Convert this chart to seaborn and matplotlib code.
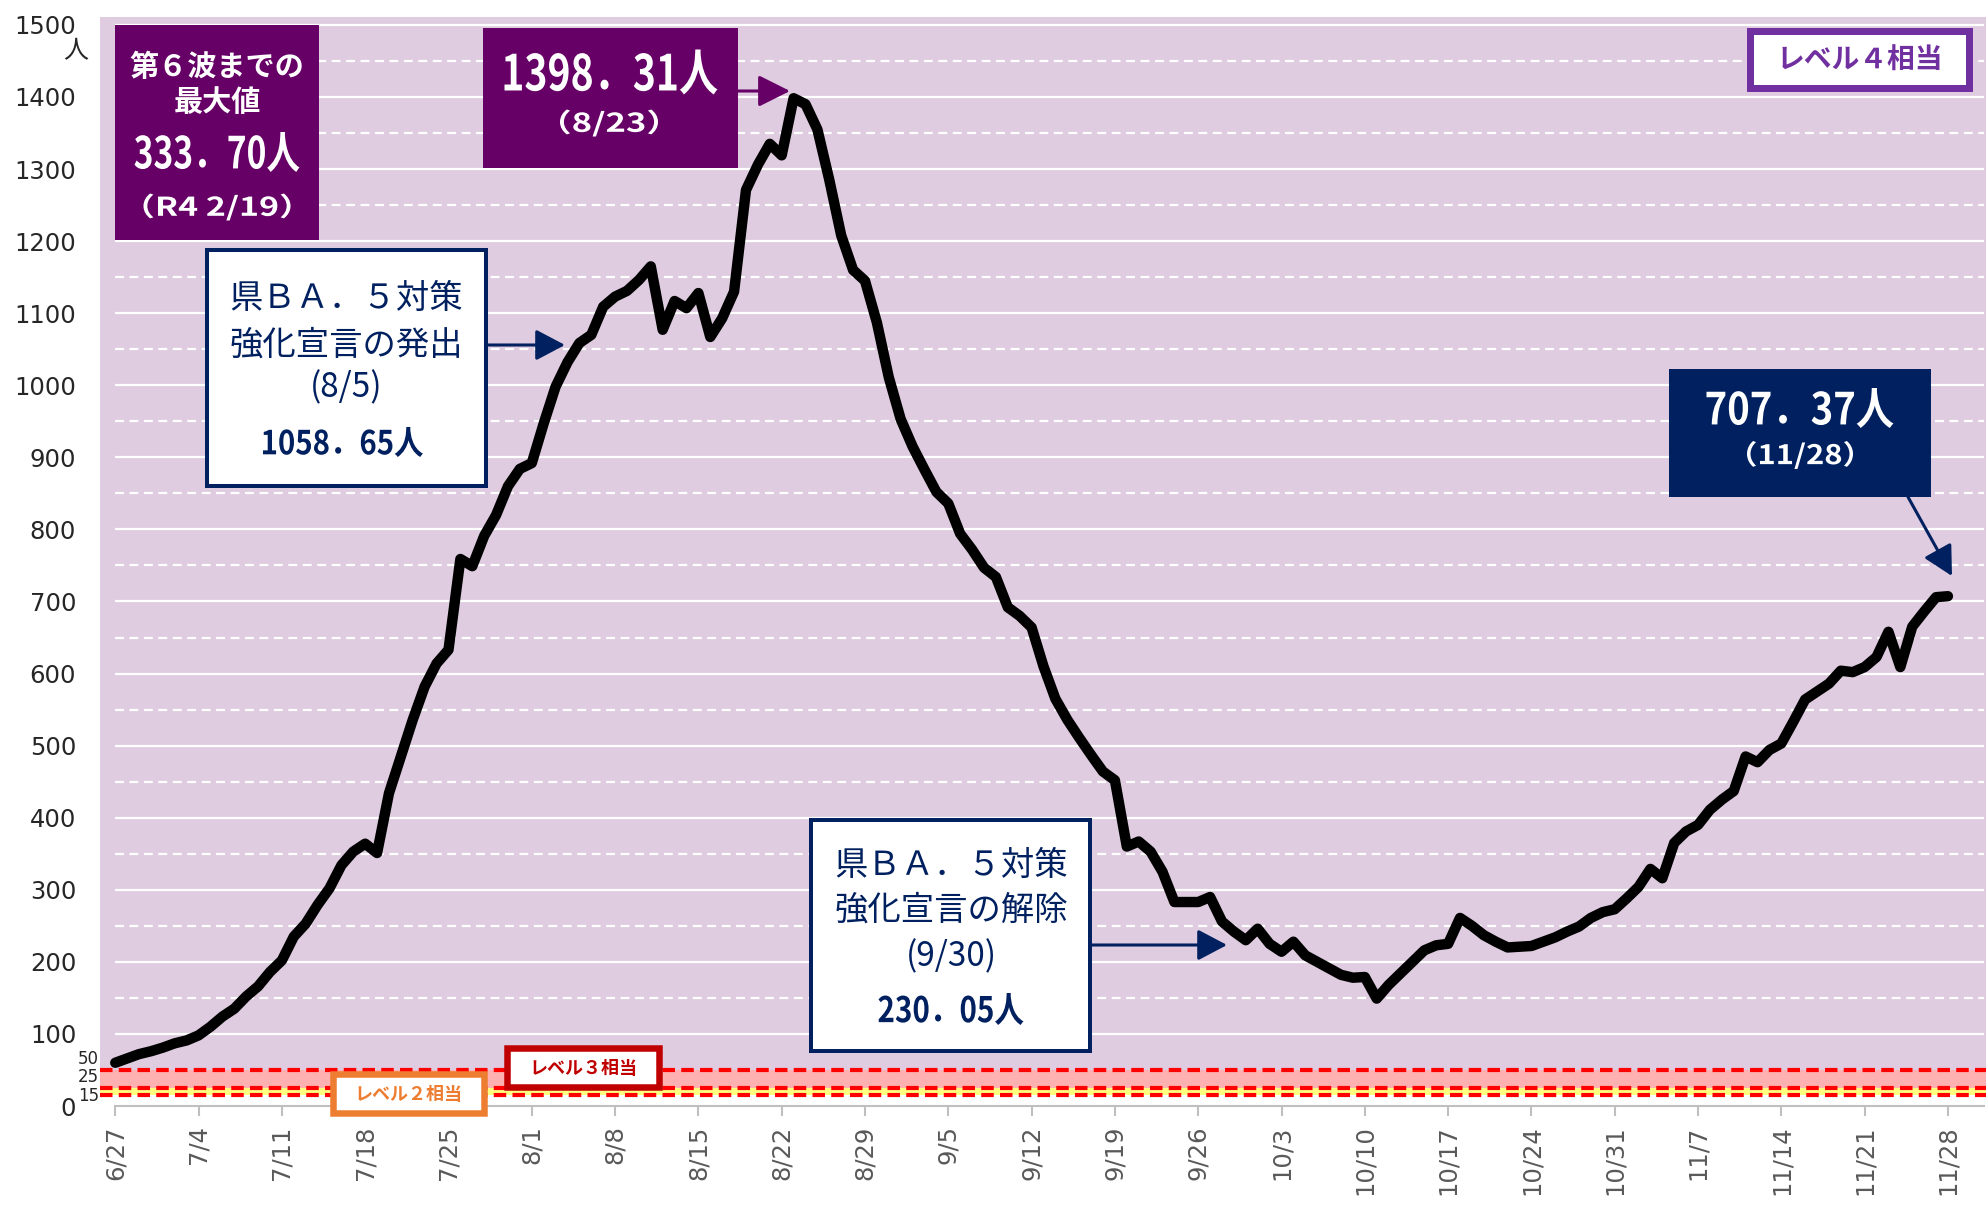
import numpy as np
import pandas as pd
import matplotlib
matplotlib.use('Agg')
import matplotlib.pyplot as plt
import seaborn as sns
from matplotlib.patches import Rectangle, FancyArrowPatch, PathPatch
from matplotlib.textpath import TextPath
from matplotlib.font_manager import FontProperties
from matplotlib.transforms import Affine2D, IdentityTransform

# daily values, 6/27 .. 11/28
values = [60, 66, 72, 76, 81, 87, 91, 98, 110, 124,
          135, 152, 166, 186, 202, 235, 253, 279, 302, 334,
          353, 364, 351, 434, 485, 536, 582, 614, 633, 759,
          749, 791, 820, 860, 884, 892, 947, 998, 1032, 1058.65,
          1070, 1109, 1123, 1131, 1146, 1165, 1077, 1117, 1107, 1128,
          1067, 1093, 1130, 1271, 1306, 1335, 1319, 1398.31, 1390, 1355,
          1285, 1208, 1160, 1145, 1087, 1011, 953, 915, 883, 852,
          836, 794, 772, 747, 734, 692, 680, 664, 610, 565,
          536, 511, 487, 464, 452, 360, 367, 353, 325, 283,
          283, 283, 290, 256, 242, 230.05, 246, 225, 214, 228,
          209, 200, 191, 182, 178, 179, 149, 168, 184, 200,
          216, 223, 225, 261, 250, 237, 228, 220, 221, 222,
          228, 234, 242, 249, 261, 269, 273, 288, 304, 329,
          316, 365, 381, 390, 411, 425, 437, 485, 477, 494,
          503, 533, 564, 575, 586, 604, 602, 609, 623, 658,
          609, 665, 686, 706, 707.37]

tick_labels = ['6/27', '7/4', '7/11', '7/18', '7/25', '8/1', '8/8', '8/15',
               '8/22', '8/29', '9/5', '9/12', '9/19', '9/26', '10/3', '10/10',
               '10/17', '10/24', '10/31', '11/7', '11/14', '11/21', '11/28']
level_lines = [50, 25, 15]
level_labels = ['50', '25', '15']

df = pd.DataFrame({'day': np.arange(len(values)), 'value': values})

W, H = 1988, 1210
purple_bg = '#DFCCE0'
navy = '#002060'
dark_purple = '#660066'
cjk = ['Noto Sans CJK JP']

sns.set_style('white')
plt.rcParams['font.family'] = ['DejaVu Sans', 'Noto Sans CJK JP']

fig = plt.figure(figsize=(W / 100, H / 100), dpi=100)
ax = fig.add_axes([99.8 / W, 104 / H, 1886.2 / W, 1089 / H])
ax.set_xlim(-1.3, 157.2)
ax.set_ylim(0, 1511)
ax.set_facecolor('white')

# background bands
ax.axhspan(50, 1511, color=purple_bg, lw=0, zorder=0)
ax.axhspan(25, 50, color='#FFB0B0', lw=0, zorder=0)
ax.axhspan(15, 25, color='#FFFF80', lw=0, zorder=0)

# grid
ax.hlines(np.arange(100, 1501, 100), 0, 157, colors='white', lw=1.6, zorder=1)
ax.hlines(np.arange(150, 1451, 100), 0, 157, colors='white', lw=1.6,
          linestyles=[(0, (4, 2.5))], zorder=1)
ax.hlines(level_lines, -1.3, 157.2, colors='red', lw=3,
          linestyles=[(0, (3, 1.5))], zorder=2)

sns.lineplot(data=df, x='day', y='value', color='black', linewidth=7.5,
             ax=ax, zorder=4, solid_joinstyle='round', solid_capstyle='round')

ax.set_xticks(df['day'][::7])
ax.set_xticklabels(tick_labels, rotation=90, color='#595959', fontsize=17.5)
ax.tick_params(axis='x', length=7, width=1.5, color='#BFBFBF', pad=7, bottom=True)
yt = [0] + list(range(100, 1501, 100))
ax.set_yticks(yt)
ax.set_yticklabels([str(v) for v in yt], fontsize=17.5)
ax.tick_params(axis='y', length=0, pad=17)
ax.set_xlabel('')
ax.set_ylabel('')
for s in ['top', 'right', 'left']:
    ax.spines[s].set_visible(False)
ax.spines['bottom'].set_bounds(0, 157)
ax.spines['bottom'].set_color('#BFBFBF')
ax.spines['bottom'].set_linewidth(1.5)

for lab, yy in zip(level_labels, [65, 40, 14]):
    ax.text(-1.35, yy, lab, ha='right', va='center', fontsize=12)

fig.text(76 / W, 1 - 51 / H, '人', ha='center', va='center', fontsize=18, family=cjk)


def box(x0, y0, x1, y1, face, edge=None, lw_px=0):
    # outer box in pixels from top-left, border drawn inside
    h = lw_px / 2
    r = Rectangle(((x0 + h) / W, 1 - (y1 - h) / H), (x1 - x0 - lw_px) / W,
                  (y1 - y0 - lw_px) / H, transform=fig.transFigure,
                  facecolor=face, edgecolor=edge if edge else face,
                  linewidth=lw_px * 0.72, zorder=6)
    fig.add_artist(r)


def label(x, y, s, size, color, weight='normal'):
    fig.text(x / W, 1 - y / H, s, ha='center', va='center', fontsize=size,
             color=color, fontweight=weight, family=cjk, zorder=7)


def fit_text(cx, cy, s, w, h, color, weight='bold'):
    # condensed text: glyph outline stretched to the given ink box (pixels)
    fp = FontProperties(family=cjk, weight=weight)
    tp = TextPath((0, 0), s, size=50, prop=fp)
    bb = tp.get_extents()
    tr = (Affine2D().translate(-(bb.x0 + bb.x1) / 2, -(bb.y0 + bb.y1) / 2)
          .scale(w / bb.width, h / bb.height).translate(cx, H - cy))
    p = PathPatch(tr.transform_path(tp), facecolor=color, edgecolor='none',
                  transform=IdentityTransform(), zorder=7)
    fig.add_artist(p)


def arrow(x0, y0, x1, y1, color, hl=18, hw=9.5):
    a = FancyArrowPatch((x0 / W, 1 - y0 / H), (x1 / W, 1 - y1 / H),
                        transform=fig.transFigure,
                        arrowstyle=f'-|>,head_length={hl},head_width={hw}',
                        mutation_scale=1, color=color, lw=2.2,
                        shrinkA=0, shrinkB=0, zorder=6)
    fig.add_artist(a)


# previous wave maximum
box(115, 25, 319, 240, dark_purple)
label(217, 67, '第６波までの', 21, 'white', 'bold')
label(217, 102, '最大値', 21, 'white', 'bold')
fit_text(217, 152, '333．70人', 165, 40, 'white')
fit_text(217, 207, '（R4 2/19）', 147, 27, 'white')

# peak
box(483, 28, 738, 168, dark_purple)
fit_text(611, 72, '1398．31人', 213, 45, 'white')
fit_text(609, 123, '（8/23）', 98, 27, 'white')
arrow(738, 91, 790, 91, dark_purple, 19.4, 9.7)

# declaration issued
box(204.5, 248, 487.5, 488, 'white', navy, 4)
label(346, 298, '県ＢＡ．５対策', 24, navy)
label(346, 345, '強化宣言の発出', 24, navy)
label(346, 388, '(8/5)', 24, navy)
fit_text(343, 442, '1058．65人', 160, 30, navy)
arrow(488, 345, 565, 345, navy)

# declaration lifted
box(809, 818, 1092, 1053, 'white', navy, 4)
label(951, 865, '県ＢＡ．５対策', 24, navy)
label(951, 910, '強化宣言の解除', 24, navy)
label(951, 957, '(9/30)', 24, navy)
fit_text(951, 1009, '230．05人', 145, 32, navy)
arrow(1092, 945, 1227, 945, navy)

# latest
box(1669, 369, 1931, 497, navy)
fit_text(1800, 408, '707．37人', 187, 40, 'white')
fit_text(1800, 455, '（11/28）', 106, 28, 'white')
arrow(1908, 497, 1952, 576, navy)

# level boxes
box(1746, 28, 1972, 91, 'white', '#7030A0', 7)
label(1860, 61, 'レベル４相当', 20, '#7030A0', 'bold')
box(504, 1045, 662, 1090, 'white', '#C00000', 6.5)
label(583, 1068, 'レベル３相当', 13, '#C00000', 'bold')
box(330, 1071, 487, 1116, 'white', '#ED7D31', 6.5)
label(408, 1095, 'レベル２相当', 13, '#ED7D31', 'bold')

fig.savefig('out.png', dpi=100)
